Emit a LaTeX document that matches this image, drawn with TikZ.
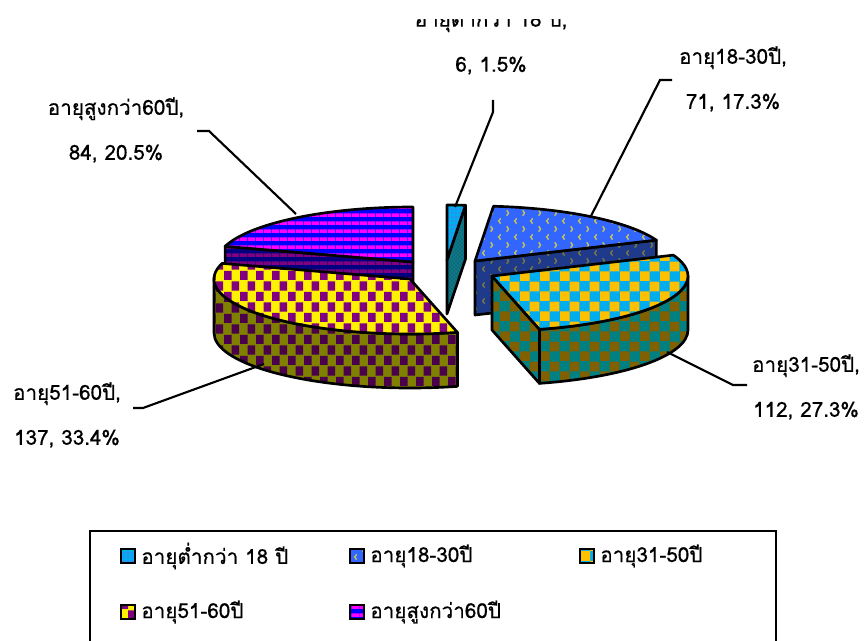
\documentclass[tikz,border=0pt]{standalone}
\usepackage{fontspec}
\setmainfont[Script=Thai,FakeBold=0.6]{Loma}
\usepackage{tikz}
\usetikzlibrary{patterns,positioning}

\definecolor{pieblue}{HTML}{3366FF}
\definecolor{piemark}{HTML}{C8C850}
\definecolor{pienavy}{HTML}{1F3A8A}
\definecolor{piedot}{HTML}{7A7A40}
\definecolor{piegold}{HTML}{FFC000}
\definecolor{pieteal}{HTML}{008080}
\definecolor{piebrown}{HTML}{806000}
\definecolor{pieplum}{HTML}{800080}
\definecolor{piedarkplum}{HTML}{4B004B}
\definecolor{pieolive}{HTML}{808000}
\definecolor{pienavyb}{HTML}{000080}

\pgfdeclarepatternformonly{hbands}{\pgfpointorigin}{\pgfqpoint{6pt}{6pt}}{\pgfqpoint{6pt}{6pt}}{%
  \pgfpathrectangle{\pgfpointorigin}{\pgfqpoint{6.1pt}{3pt}}\pgfusepath{fill}}
\pgfdeclarepatternformonly{bigchecks}{\pgfpointorigin}{\pgfqpoint{15pt}{15pt}}{\pgfqpoint{15pt}{15pt}}{%
  \pgfpathrectangle{\pgfpointorigin}{\pgfqpoint{7.6pt}{7.6pt}}%
  \pgfpathrectangle{\pgfqpoint{7.5pt}{7.5pt}}{\pgfqpoint{7.6pt}{7.6pt}}\pgfusepath{fill}}
\pgfdeclarepatternformonly{blocks}{\pgfpointorigin}{\pgfqpoint{12pt}{16pt}}{\pgfqpoint{12pt}{16pt}}{%
  \pgfpathrectangle{\pgfpointorigin}{\pgfqpoint{6pt}{7pt}}%
  \pgfpathrectangle{\pgfqpoint{6pt}{8pt}}{\pgfqpoint{6pt}{7pt}}\pgfusepath{fill}}
\pgfdeclarepatternformonly{chevrons}{\pgfqpoint{-1pt}{-1pt}}{\pgfqpoint{13pt}{13pt}}{\pgfqpoint{12pt}{12pt}}{%
  \pgfsetlinewidth{1pt}%
  \pgfpathmoveto{\pgfqpoint{3.5pt}{5pt}}\pgfpathlineto{\pgfqpoint{2pt}{3pt}}\pgfpathlineto{\pgfqpoint{3.5pt}{1pt}}%
  \pgfpathmoveto{\pgfqpoint{8pt}{11pt}}\pgfpathlineto{\pgfqpoint{9.5pt}{9pt}}\pgfpathlineto{\pgfqpoint{8pt}{7pt}}%
  \pgfusepath{stroke}}

\tikzstyle{edge}=[draw=black,line width=2pt,line join=round]
\tikzstyle{u18top}=[preaction={fill=cyan},pattern=dots,pattern color=magenta]
\tikzstyle{u18side}=[preaction={fill=pieteal},pattern=crosshatch dots,pattern color=pieplum]
\tikzstyle{a18top}=[preaction={fill=pieblue},pattern=chevrons,pattern color=piemark]
\tikzstyle{a18side}=[preaction={fill=pienavy},pattern=chevrons,pattern color=piedot]
\tikzstyle{a31top}=[preaction={fill=cyan},pattern=bigchecks,pattern color=piegold]
\tikzstyle{a31side}=[preaction={fill=pieteal},pattern=bigchecks,pattern color=piebrown]
\tikzstyle{a51top}=[preaction={fill=yellow},pattern=blocks,pattern color=pieplum]
\tikzstyle{a51side}=[preaction={fill=pieolive},pattern=blocks,pattern color=piedarkplum]
\tikzstyle{o60top}=[preaction={fill=blue},pattern=hbands,pattern color=magenta]
\tikzstyle{o60side}=[preaction={fill=pienavyb},pattern=hbands,pattern color=pieplum]
\tikzstyle{slicelabel}=[align=center,inner sep=0pt,font=\fontsize{15.5}{33.75}\selectfont]
\tikzstyle{leader}=[draw=black,line width=1.6pt]
\tikzstyle{legendkey}=[draw=black,line width=1.6pt,minimum size=10pt,inner sep=0pt]
\tikzstyle{legendtext}=[inner sep=0pt,font=\fontsize{15.5}{19}\selectfont]

\begin{document}
\begin{tikzpicture}[x=0.75pt,y=0.75pt]
\clip (0,0) rectangle (867,-641);

% slices, back to front
\begin{scope}[shift={(413,-262)}]
  \draw[o60side,edge] (0,0) -- (163.5:196 and 55) -- ++(0,-54) -- (0,-54) -- cycle;
  \draw[o60top,edge] (0,0) -- (90:196 and 55)
    arc[start angle=90,end angle=163.5,x radius=196,y radius=55] -- cycle;
\end{scope}
\begin{scope}[shift={(410,-279)}]
  \draw[a51side,edge] (180:196 and 55)
    arc[start angle=180,end angle=284,x radius=196,y radius=55] -- ++(0,-54)
    arc[start angle=284,end angle=180,x radius=196,y radius=55] -- cycle;
  \draw[a51top,edge] (0,0) -- (163.5:196 and 55)
    arc[start angle=163.5,end angle=284,x radius=196,y radius=55] -- cycle;
\end{scope}
\begin{scope}[shift={(447,-260)}]
  \draw[u18side,edge] (0,0) -- (84.6:196 and 55) -- ++(0,-54) -- (0,-54) -- cycle;
  \draw[u18top,edge] (0,0) -- (90:196 and 55)
    arc[start angle=90,end angle=84.6,x radius=196,y radius=55] -- cycle;
\end{scope}
\begin{scope}[shift={(475,-261)}]
  \draw[a18side,edge] (0,0) -- (22.3:196 and 55) -- ++(0,-54) -- (0,-54) -- cycle;
  \draw[a18top,edge] (0,0) -- (84.6:196 and 55)
    arc[start angle=84.6,end angle=22.3,x radius=196,y radius=55] -- cycle;
\end{scope}
\begin{scope}[shift={(492,-276)}]
  \draw[a31side,edge] (0,0) -- (-76:196 and 55) -- ++(0,-54) -- (0,-54) -- cycle;
  \draw[a31side,edge] (-76:196 and 55)
    arc[start angle=-76,end angle=0,x radius=196,y radius=55] -- ++(0,-54)
    arc[start angle=0,end angle=-76,x radius=196,y radius=55] -- cycle;
  \draw[a31top,edge] (0,0) -- (22.3:196 and 55)
    arc[start angle=22.3,end angle=-76,x radius=196,y radius=55] -- cycle;
\end{scope}

% data labels
\begin{scope}
  \clip (0,-20) rectangle (867,-641);
  \node[slicelabel] (lblU18) at (491,-40) {อายุต่ำกว่า 18 ปี,\\6, 1.5\%};
\end{scope}
\node[slicelabel] (lbl1830) at (733,-79) {อายุ18-30ปี,\\71, 17.3\%};
\node[slicelabel] (lbl60) at (116,-130) {อายุสูงกว่า60ปี,\\84, 20.5\%};
\node[slicelabel] (lbl5160) at (67,-415) {อายุ51-60ปี,\\137, 33.4\%};
\node[slicelabel] (lbl3150) at (806,-387) {อายุ31-50ปี,\\112, 27.3\%};

% leaders
\coordinate (outU18) at (493,-100);
\coordinate (tipU18) at (455,-207);
\coordinate (out1830) at (672,-80);
\coordinate (tip1830) at (591,-216);
\coordinate (out60) at (197,-131);
\coordinate (tip60) at (296,-214);
\coordinate (out5160) at (133,-408);
\coordinate (tip5160) at (264,-364);
\coordinate (out3150) at (747,-385);
\coordinate (tip3150) at (667,-352);
\draw[leader] (outU18) -- ++(0,-12) -- (tipU18);
\draw[leader] (out1830) -- ++(-12,0) -- (tip1830);
\draw[leader] (out60) -- ++(12,0) -- (tip60);
\draw[leader] (out5160) -- ++(10,0) -- (tip5160);
\draw[leader] (out3150) -- ++(-14,0) -- (tip3150);

% legend
\draw[line width=1.6pt] (90,-531) rectangle (776,-660);
\node[legendkey,u18top] (keyU18) at (128,-556) {};
\node[legendtext,right=4pt of keyU18] (txtU18) {อายุต่ำกว่า 18 ปี};
\node[legendkey,a18top] (key1830) at (357,-556) {};
\node[legendtext,right=4pt of key1830] (txt1830) {อายุ18-30ปี};
\node[legendkey,a31top] (key3150) at (587,-556) {};
\node[legendtext,right=4pt of key3150] (txt3150) {อายุ31-50ปี};
\node[legendkey,a51top] (key5160) at (128,-612) {};
\node[legendtext,right=4pt of key5160] (txt5160) {อายุ51-60ปี};
\node[legendkey,o60top] (key60) at (357,-612) {};
\node[legendtext,right=4pt of key60] (txt60) {อายุสูงกว่า60ปี};
\end{tikzpicture}
\end{document}
